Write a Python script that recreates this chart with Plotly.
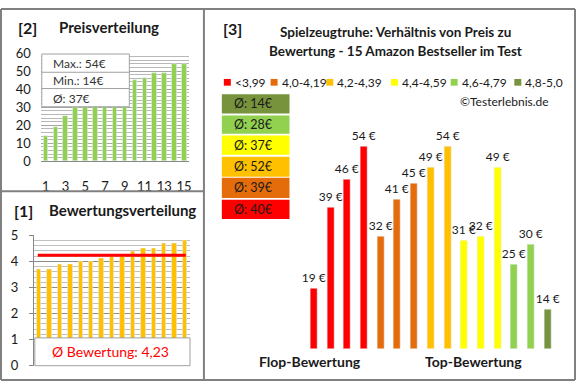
import math
import plotly.graph_objects as go

W, H = 580, 390

# ---------------- data ----------------
products = list(range(1, 16))
price_sorted = [14, 19, 25, 30, 31, 32, 32, 39, 41, 45, 46, 49, 49, 54, 54]
rating_sorted = [3.7, 3.7, 3.9, 3.9, 4.0, 4.0, 4.1, 4.2, 4.2, 4.4, 4.5, 4.5, 4.7, 4.7, 4.8]
price_by_rating = [19, 39, 46, 54, 32, 41, 45, 49, 54, 31, 32, 49, 25, 30, 14]
avg_rating_shown = 4.23

cat_labels = ["<3,99", "4,0-4,19", "4,2-4,39", "4,4-4,59", "4,6-4,79", "4,8-5,0"]
cat_colors = ["#FF0000", "#E46C0A", "#FFC000", "#FFFF00", "#92D050", "#77933C"]
cat_lower = [0.0, 4.0, 4.2, 4.4, 4.6, 4.8]

price_ticks = [0, 10, 20, 30, 40, 50, 60]
rating_ticks = [0, 1, 2, 3, 4, 5]
top_x_ticks = [1, 3, 5, 7, 9, 11, 13, 15]

FONT = "Lato"
TXT = "#1a1a1a"


def X(px):
    return px / W


def Y(py):
    return 1 - py / H


def cat_of(r):
    idx = 0
    for i, lo in enumerate(cat_lower):
        if r >= lo - 1e-9:
            idx = i
    return idx


def rnd(v):
    return int(math.floor(v + 0.5))


bar_cats = [cat_of(r) for r in rating_sorted]
bar_colors = [cat_colors[c] for c in bar_cats]
cat_avgs = []
for ci in range(len(cat_labels)):
    vals = [p for p, c in zip(price_by_rating, bar_cats) if c == ci]
    cat_avgs.append(rnd(sum(vals) / len(vals)) if vals else 0)

p_max = max(price_sorted)
p_min = min(price_sorted)
p_avg = rnd(sum(price_sorted) / len(price_sorted))

fig = go.Figure()

# top-left: Preisverteilung
fig.add_trace(go.Bar(x=products, y=price_sorted, marker_color="#92D050",
                     width=0.45, xaxis="x", yaxis="y", hoverinfo="skip"))
# bottom-left: Bewertungsverteilung
fig.add_trace(go.Bar(x=products, y=rating_sorted, marker_color="#FFC000",
                     width=0.42, xaxis="x2", yaxis="y2", hoverinfo="skip"))
# right: price by rating
fig.add_trace(go.Bar(x=products, y=price_by_rating, marker_color=bar_colors,
                     width=0.42, xaxis="x3", yaxis="y3", hoverinfo="skip",
                     text=[f"{p} €" for p in price_by_rating],
                     textposition="outside", cliponaxis=False, constraintext="none",
                     textfont=dict(family=FONT, size=12, color=TXT)))

shapes = []
annotations = []

GRAY = "#808080"
# panel borders
for (x0, y0, x1, y1) in [(1, 1, 578, 1), (1, 388, 578, 388), (1, 1, 1, 388),
                         (578, 1, 578, 388), (205, 1, 205, 388), (1, 191, 205, 191)]:
    shapes.append(dict(type="line", xref="paper", yref="paper",
                       x0=X(x0), y0=Y(y0), x1=X(x1), y1=Y(y1),
                       line=dict(color=GRAY, width=2)))

# top-left info box
shapes.append(dict(type="rect", xref="paper", yref="paper", x0=X(42), x1=X(130),
                   y0=Y(48), y1=Y(103), fillcolor="white",
                   line=dict(color="#a0a0a0", width=1), layer="above"))
for sy in (67, 84):
    shapes.append(dict(type="line", xref="paper", yref="paper", x0=X(42), x1=X(130),
                       y0=Y(sy), y1=Y(sy), line=dict(color="#a0a0a0", width=1)))
for txt, cy in [(f"Max.: {p_max}€", 58), (f"Min.: {p_min}€", 76), (f"Ø: {p_avg}€", 94)]:
    annotations.append(dict(xref="paper", yref="paper", x=X(51), y=Y(cy), text=txt,
                            showarrow=False, xanchor="left", yanchor="middle",
                            font=dict(family=FONT, size=12, color="#333")))

# bottom-left average line and box
shapes.append(dict(type="line", xref="x2", yref="y2", x0=0.88, x1=15.1,
                   y0=avg_rating_shown, y1=avg_rating_shown,
                   line=dict(color="#FF0000", width=3)))
shapes.append(dict(type="rect", xref="paper", yref="paper", x0=X(35), x1=X(191),
                   y0=Y(344), y1=Y(373), fillcolor="white",
                   line=dict(color="#a0a0a0", width=1), layer="above"))
annotations.append(dict(xref="paper", yref="paper", x=X(111), y=Y(358),
                        text="Ø Bewertung: " + f"{avg_rating_shown:.2f}".replace(".", ","),
                        showarrow=False, xanchor="center", yanchor="middle",
                        font=dict(family=FONT, size=14, color="#FF0000")))

# titles
annotations += [
    dict(xref="paper", yref="paper", x=X(16), y=Y(20), text="<b>[2]</b>", showarrow=False,
         xanchor="left", yanchor="middle", font=dict(family=FONT, size=16, color=TXT)),
    dict(xref="paper", yref="paper", x=X(57), y=Y(20), text="<b>Preisverteilung</b>", showarrow=False,
         xanchor="left", yanchor="middle", font=dict(family=FONT, size=15, color=TXT)),
    dict(xref="paper", yref="paper", x=X(12), y=Y(211), text="<b>[1]</b>", showarrow=False,
         xanchor="left", yanchor="middle", font=dict(family=FONT, size=16, color=TXT)),
    dict(xref="paper", yref="paper", x=X(47), y=Y(211), text="<b>Bewertungsverteilung</b>", showarrow=False,
         xanchor="left", yanchor="middle", font=dict(family=FONT, size=15, color=TXT)),
    dict(xref="paper", yref="paper", x=X(222), y=Y(21), text="<b>[3]</b>", showarrow=False,
         xanchor="left", yanchor="middle", font=dict(family=FONT, size=16, color=TXT)),
    dict(xref="paper", yref="paper", x=X(398), y=Y(25), text="<b>Spielzeugtruhe: Verhältnis von Preis zu</b>",
         showarrow=False, xanchor="center", yanchor="middle", font=dict(family=FONT, size=13.5, color=TXT)),
    dict(xref="paper", yref="paper", x=X(398), y=Y(45), text="<b>Bewertung - 15 Amazon Bestseller im Test</b>",
         showarrow=False, xanchor="center", yanchor="middle", font=dict(family=FONT, size=13.5, color=TXT)),
    dict(xref="paper", yref="paper", x=X(554), y=Y(98), text="©Testerlebnis.de", showarrow=False,
         xanchor="right", yanchor="middle", font=dict(family=FONT, size=12, color=TXT)),
    dict(xref="paper", yref="paper", x=X(312), y=Y(369), text="<b>Flop-Bewertung</b>", showarrow=False,
         xanchor="center", yanchor="middle", font=dict(family=FONT, size=14, color=TXT)),
    dict(xref="paper", yref="paper", x=X(476), y=Y(369), text="<b>Top-Bewertung</b>", showarrow=False,
         xanchor="center", yanchor="middle", font=dict(family=FONT, size=14, color=TXT)),
]

# legend row
leg_sq_x = [225, 272, 328, 393, 453, 517]
for sx, lab, col in zip(leg_sq_x, cat_labels, cat_colors):
    shapes.append(dict(type="rect", xref="paper", yref="paper", x0=X(sx), x1=X(sx + 7),
                       y0=Y(74), y1=Y(81), fillcolor=col, line=dict(width=0)))
    annotations.append(dict(xref="paper", yref="paper", x=X(sx + 9), y=Y(77.5), text=lab,
                            showarrow=False, xanchor="left", yanchor="middle",
                            font=dict(family=FONT, size=12, color=TXT)))

# category average boxes (top: best category)
box_rows = [(90, 110), (112, 131), (133, 153), (155, 176), (177, 198), (200, 220)]
for (y0, y1), ci in zip(box_rows, reversed(range(len(cat_labels)))):
    shapes.append(dict(type="rect", xref="paper", yref="paper", x0=X(223), x1=X(291),
                       y0=Y(y0), y1=Y(y1), fillcolor=cat_colors[ci], line=dict(width=0)))
    annotations.append(dict(xref="paper", yref="paper", x=X(233), y=Y((y0 + y1) / 2),
                            text=f"Ø: {cat_avgs[ci]}€", showarrow=False, xanchor="left",
                            yanchor="middle", font=dict(family=FONT, size=12.5, color=TXT)))

fig.update_layout(
    width=W, height=H, margin=dict(l=0, r=0, t=0, b=0),
    paper_bgcolor="white", plot_bgcolor="white", showlegend=False,
    font=dict(family=FONT, size=12, color=TXT),
    bargap=0,
    xaxis=dict(domain=[X(41), X(190)], range=[0.5, 15.5], tickvals=top_x_ticks,
               showgrid=False, zeroline=False, showline=True, linecolor="#888", linewidth=1,
               ticks="", ticklabelstandoff=13, tickfont=dict(size=13, color=TXT), fixedrange=True),
    yaxis=dict(domain=[Y(160), Y(47)], range=[0, 60], tickvals=price_ticks,
               showgrid=True, gridcolor="#a6a6a6", gridwidth=1, zeroline=False,
               minor=dict(dtick=2, showgrid=True, gridcolor="#b8b8b8", gridwidth=1),
               showline=False, ticks="", ticklabelstandoff=9,
               tickfont=dict(size=13, color=TXT), fixedrange=True),
    xaxis2=dict(domain=[X(34), X(191)], range=[0.5, 15.5], showticklabels=False,
                showgrid=False, zeroline=False, showline=False, anchor="y2", fixedrange=True),
    yaxis2=dict(domain=[Y(373), Y(237)], range=[0, 5], tickvals=rating_ticks,
                showgrid=True, gridcolor="#8c8c8c", gridwidth=1, zeroline=False,
                minor=dict(dtick=0.2, showgrid=True, gridcolor="#c0c0c0", gridwidth=1),
                showline=True, linecolor="#888", linewidth=1, ticks="outside", ticklen=4,
                tickcolor="#888", ticklabelstandoff=8, anchor="x2",
                tickfont=dict(size=13, color=TXT), fixedrange=True),
    xaxis3=dict(domain=[X(307), X(559)], range=[0.5, 15.5], visible=False, anchor="y3"),
    yaxis3=dict(domain=[Y(355), Y(110)], range=[4.3, 62.2], visible=False, anchor="x3"),
    shapes=shapes, annotations=annotations,
)

fig.write_html("out.html", config={"displayModeBar": False},
               post_script="document.body.style.margin='0';document.body.style.overflow='hidden';")
